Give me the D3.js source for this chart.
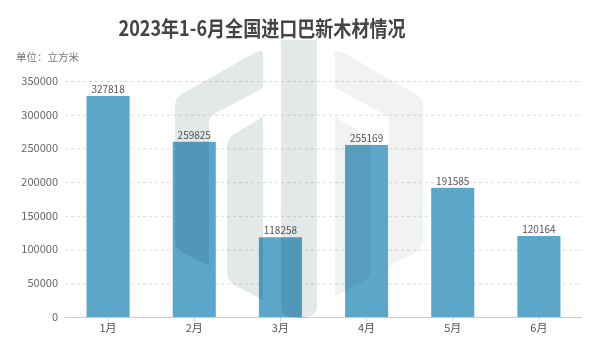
<!DOCTYPE html>
<html><head><meta charset="utf-8">
<script src="https://cdn.jsdelivr.net/npm/d3@7"></script>
<style>body{margin:0;background:#fff;} text{font-family:"Noto Sans CJK SC","Noto Sans",sans-serif;}</style>
</head><body>
<svg id="c" width="600" height="360"></svg>
<script>
const categories = ["1月","2月","3月","4月","5月","6月"];
const values = [327818, 259825, 118258, 255169, 191585, 120164];
const yTicks = [0,50000,100000,150000,200000,250000,300000,350000];
const title = "2023年1-6月全国进口巴新木材情况";
const unitLabel = "单位：立方米";

const svg = d3.select("#c");
const x = d3.scaleBand().domain(categories).range([65,582]).paddingInner(0.5).paddingOuter(0.25);
const y = d3.scaleLinear().domain([0,350000]).range([317,81]);

// title
svg.append("text").attr("x",262).attr("y",36).attr("text-anchor","middle")
  .attr("font-size",21).attr("font-weight","bold").attr("fill","#444")
  .attr("textLength",287).attr("lengthAdjust","spacingAndGlyphs").text(title);
svg.append("text").attr("x",16).attr("y",61).attr("font-size",10.5).attr("fill","#777").text(unitLabel);

// grid
svg.append("g").selectAll("line").data(yTicks.filter(d=>d>0)).join("line")
  .attr("x1",65).attr("x2",582).attr("y1",d=>y(d)+0.5).attr("y2",d=>y(d)+0.5)
  .attr("stroke","#dcdcdc").attr("stroke-dasharray","3,3");

// y labels
svg.append("g").selectAll("text").data(yTicks).join("text")
  .attr("x",58).attr("y",d=>y(d)).attr("dy","0.35em").attr("text-anchor","end")
  .attr("font-size",11).attr("fill","#666").text(d=>d);

// bars
svg.append("g").selectAll("rect").data(values).join("rect")
  .attr("x",(d,i)=>x(categories[i])).attr("width",x.bandwidth())
  .attr("y",d=>y(d)).attr("height",d=>y(0)-y(d)).attr("fill","#5ba6c9");

// axis line
svg.append("line").attr("x1",65).attr("x2",582).attr("y1",317.5).attr("y2",317.5).attr("stroke","#ccc");
svg.append("g").selectAll("line").data(categories).join("line")
  .attr("x1",d=>x(d)+x.bandwidth()/2).attr("x2",d=>x(d)+x.bandwidth()/2)
  .attr("y1",317).attr("y2",321).attr("stroke","#ccc");
svg.append("g").selectAll("text").data(categories).join("text")
  .attr("x",d=>x(d)+x.bandwidth()/2).attr("y",332).attr("text-anchor","middle")
  .attr("font-size",11).attr("fill","#555").text(d=>d);

// value labels
svg.append("g").selectAll("text").data(values).join("text")
  .attr("x",(d,i)=>x(categories[i])+x.bandwidth()/2).attr("y",d=>y(d)-3)
  .attr("text-anchor","middle").attr("font-size",10).attr("fill","#555").text(d=>d);

// watermark
const wm = svg.append("g").style("mix-blend-mode","multiply");
wm.append("path").attr("fill","#e3e8e9")
  .attr("d","M263,54 L263,88 L214,114 Q209,117 209,123 L209,266 L182,252 Q175,248 175,240 L175,106 Q175,98 182,94 L256,52 Q263,49 263,54 Z");
wm.append("path").attr("fill","#e3e8e9")
  .attr("d","M263,114 L263,300 L236,286 Q227,281 227,272 L227,146 Q227,138 234,134 L258,120 Q263,117 263,114 Z");
wm.append("path").attr("fill","#e3e8e9")
  .attr("d","M281,40 L317,40 L317,306 Q317,318 299,318 Q281,318 281,306 Z");
wm.append("path").attr("fill","#f1f2f2")
  .attr("d","M335,54 L335,88 L384,114 Q389,117 389,123 L389,266 L416,252 Q423,248 423,240 L423,106 Q423,98 416,94 L342,52 Q335,49 335,54 Z");
wm.append("path").attr("fill","#f1f2f2")
  .attr("d","M335,114 L335,296 L362,282 Q371,277 371,268 L371,146 Q371,138 364,134 L340,120 Q335,117 335,114 Z");
</script>
</body></html>
